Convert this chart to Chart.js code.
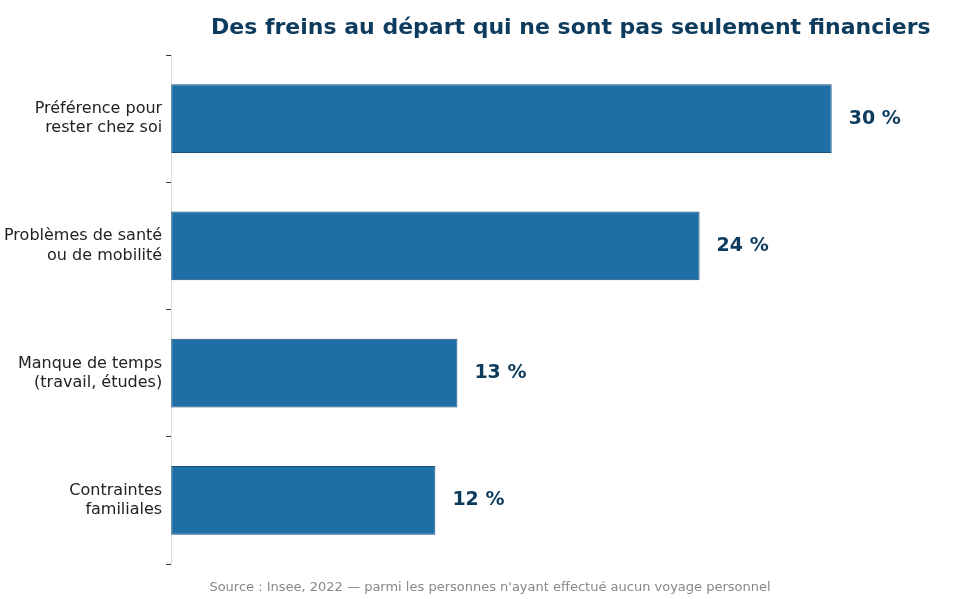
<!DOCTYPE html>
<html>
<head>
<meta charset="utf-8">
<script src="https://cdn.jsdelivr.net/npm/chart.js@4.4.0/dist/chart.umd.min.js"></script>
<style>
  html, body { margin: 0; padding: 0; background: #fff; }
  #wrap { width: 980px; height: 599px; }
</style>
</head>
<body>
<div id="wrap"><canvas id="c" width="980" height="599"></canvas></div>
<script>
const categories = [
  ['Préférence pour', 'rester chez soi'],
  ['Problèmes de santé', 'ou de mobilité'],
  ['Manque de temps', '(travail, études)'],
  ['Contraintes', 'familiales']
];
const values = [30, 24, 13, 12];
const titleText = 'Des freins au départ qui ne sont pas seulement financiers';
const sourceText = "Source : Insee, 2022 — parmi les personnes n'ayant effectué aucun voyage personnel";

const font = "'DejaVu Sans', sans-serif";

// Title, source and value labels drawn by hand
const decor = {
  id: 'decor',
  afterDatasetsDraw(chart) {
    const ctx = chart.ctx;
    const meta = chart.getDatasetMeta(0);
    ctx.save();
    ctx.font = 'bold 19px ' + font;
    ctx.fillStyle = '#0d3b5e';
    ctx.textBaseline = 'middle';
    ctx.textAlign = 'left';
    meta.data.forEach((bar, i) => {
      ctx.fillText(values[i] + ' %', bar.x + 17, bar.y);
    });
    ctx.font = 'bold 22px ' + font;
    ctx.fillStyle = '#0d3b5e';
    ctx.fillText(titleText, 211, 28);
    ctx.font = '13px ' + font;
    ctx.fillStyle = '#888';
    ctx.textAlign = 'center';
    ctx.fillText(sourceText, 490, 588);
    ctx.restore();
  }
};

new Chart(document.getElementById('c'), {
  type: 'bar',
  data: {
    labels: categories,
    datasets: [{
      data: values,
      backgroundColor: '#1f6fa6',
      borderColor: '#17527d',
      borderWidth: 1,
      borderSkipped: false,
      barPercentage: 0.54,
      categoryPercentage: 1
    }]
  },
  options: {
    indexAxis: 'y',
    responsive: false,
    animation: false,
    layout: { padding: { top: 55, bottom: 35, right: 25, left: 0 } },
    plugins: { legend: { display: false }, tooltip: { enabled: false } },
    scales: {
      x: { display: false, min: 0, max: 35.6 },
      y: {
        grid: { drawOnChartArea: false, tickLength: 5, color: '#333' },
        border: { color: '#dddddd' },
        ticks: { color: '#222', font: { family: font, size: 16 }, padding: 4 }
      }
    }
  },
  plugins: [decor]
});
</script>
</body>
</html>
